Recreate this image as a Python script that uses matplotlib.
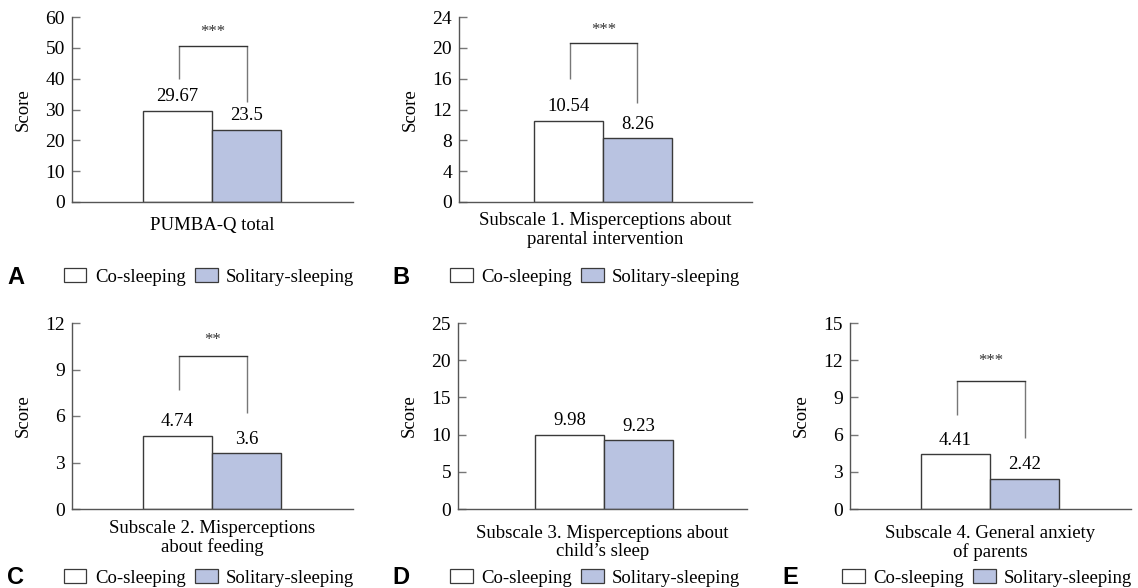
import matplotlib
matplotlib.use("Agg")
import matplotlib.pyplot as plt
from matplotlib.patches import Patch

plt.rcParams['font.family'] = ['Liberation Serif', 'DejaVu Serif']

# ---- data ----
groups = ["Co-sleeping", "Solitary-sleeping"]
panel_letters = ["A", "B", "C", "D", "E"]
xlabels = [
    "PUMBA-Q total",
    "Subscale 1. Misperceptions about\nparental intervention",
    "Subscale 2. Misperceptions\nabout feeding",
    "Subscale 3. Misperceptions about\nchild\u2019s sleep",
    "Subscale 4. General anxiety\nof parents",
]
co_values = [29.67, 10.54, 4.74, 9.98, 4.41]
sol_values = [23.5, 8.26, 3.6, 9.23, 2.42]
co_labels = ["29.67", "10.54", "4.74", "9.98", "4.41"]
sol_labels = ["23.5", "8.26", "3.6", "9.23", "2.42"]
yticks = [
    [0, 10, 20, 30, 40, 50, 60],
    [0, 4, 8, 12, 16, 20, 24],
    [0, 3, 6, 9, 12],
    [0, 5, 10, 15, 20, 25],
    [0, 3, 6, 9, 12, 15],
]
significance = ["***", "***", "**", None, "***"]
# bracket: top, left-end, right-end, star y (in data units)
brackets = [
    (50.6, 39.9, 32.4, 55.0),
    (20.6, 16.0, 12.8, 22.3),
    (9.9, 7.7, 6.2, 10.9),
    None,
    (10.3, 7.6, 5.7, 11.9),
]

# ---- layout (pixels) ----
W, H = 1138, 588
# left, top, right, bottom, bar-centre x
boxes = [
    (72, 17, 353, 202, 212),
    (459, 17, 752, 202, 603),
    (72, 323, 353, 509, 212),
    (458, 323, 747, 509, 604),
    (850, 323, 1131, 509, 990),
]
letter_pos = [(7, 277), (392, 277), (7, 578), (392, 578), (782, 578)]
legend_pos = [(64, 277), (450, 277), (64, 578), (450, 578), (842, 578)]
xlabel_pad = [11.0, 7.5, 8.0, 11.5, 11.5]
bar_px = 69.0

fill_co = "white"
fill_sol = "#b9c3e1"
edge = "#3a3a3a"
axis_col = "#555555"
tick_col = "#777777"
fs = 13.5
fs_tick = 14

fig = plt.figure(figsize=(W / 100, H / 100), dpi=100)

for i in range(5):
    l, t, r, b, c = boxes[i]
    ax = fig.add_axes([l / W, 1 - b / H, (r - l) / W, (b - t) / H])
    ax.bar([-0.5], [co_values[i]], width=1.0, color=fill_co, edgecolor=edge, linewidth=1.0)
    ax.bar([0.5], [sol_values[i]], width=1.0, color=fill_sol, edgecolor=edge, linewidth=1.0)
    ax.set_xlim((l - c) / bar_px, (r - c) / bar_px)
    ax.set_ylim(0, yticks[i][-1])
    ax.set_yticks(yticks[i])
    ax.set_xticks([])
    for s in ["top", "right"]:
        ax.spines[s].set_visible(False)
    for s in ["left", "bottom"]:
        ax.spines[s].set_color(axis_col)
        ax.spines[s].set_linewidth(1.0)
    ax.tick_params(axis="y", direction="in", length=6, width=1.0, color=tick_col,
                   labelsize=fs_tick, pad=5)
    ax.set_ylabel("Score", fontsize=fs, labelpad=10)
    ax.set_xlabel(xlabels[i], fontsize=fs, labelpad=xlabel_pad[i], linespacing=1.1)

    ax.annotate(co_labels[i], (-0.5, co_values[i]), xytext=(0, 4), textcoords="offset points",
                ha="center", va="bottom", fontsize=fs)
    ax.annotate(sol_labels[i], (0.5, sol_values[i]), xytext=(0, 4), textcoords="offset points",
                ha="center", va="bottom", fontsize=fs)

    if brackets[i] is not None:
        top, le, re, sy = brackets[i]
        xl, xr = -0.48, 0.5
        ax.plot([xl, xl], [le, top], color="#777777", lw=1.0, solid_capstyle="butt")
        ax.plot([xr, xr], [re, top], color="#777777", lw=1.0, solid_capstyle="butt")
        ax.plot([xl, xr], [top, top], color="#333333", lw=1.0, solid_capstyle="projecting")
        ax.text((xl + xr) / 2, sy, significance[i], ha="center", va="center", fontsize=12,
                color="#333333")

    lx, ly = letter_pos[i]
    fig.text(lx / W, 1 - ly / H, panel_letters[i], fontsize=17, fontweight="bold",
             family=["Liberation Sans", "DejaVu Sans"], ha="left", va="center")

    handles = [Patch(facecolor=fill_co, edgecolor=edge, linewidth=0.9, label=groups[0]),
               Patch(facecolor=fill_sol, edgecolor=edge, linewidth=0.9, label=groups[1])]
    gx, gy = legend_pos[i]
    ax.legend(handles=handles, loc="center left", bbox_to_anchor=(gx / W, 1 - gy / H),
              bbox_transform=fig.transFigure, ncol=2, frameon=False, fontsize=fs,
              handlelength=1.2, handleheight=0.72, handletextpad=0.45, columnspacing=0.5,
              borderpad=0, borderaxespad=0)

fig.savefig("out.png", dpi=100)
